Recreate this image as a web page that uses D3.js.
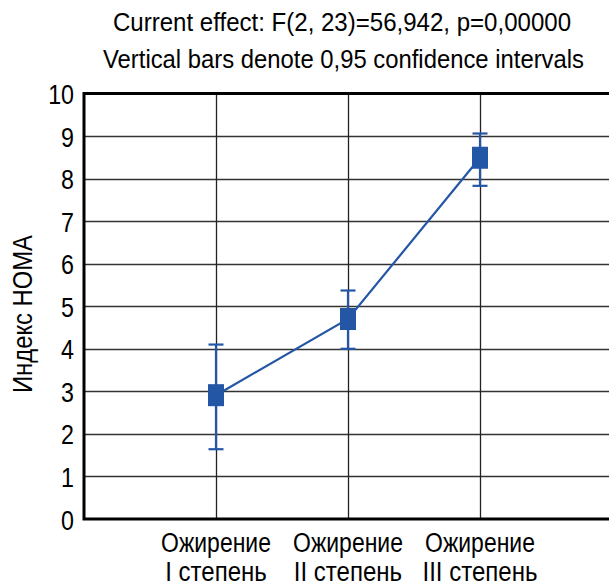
<!DOCTYPE html>
<html><head><meta charset="utf-8">
<script src="https://cdn.jsdelivr.net/npm/d3@7"></script>
<style>body{margin:0;background:#fff}svg{display:block}text{font-family:"Liberation Sans Narrow","Arial Narrow","Liberation Sans",Arial,sans-serif;fill:#000}</style>
</head><body>
<script>
const categories = [["Ожирение","I степень"],["Ожирение","II степень"],["Ожирение","III степень"]];
const means = [2.91, 4.70, 8.49];
const lower = [1.64, 4.00, 7.83];
const upper = [4.10, 5.37, 9.06];
const yTicks = [0,1,2,3,4,5,6,7,8,9,10];
const titleLines = ["Current effect: F(2, 23)=56,942, p=0,00000","Vertical bars denote 0,95 confidence intervals"];
const yLabel = "Индекс HOMA";

const W=609,H=582;
const svg=d3.select("body").append("svg").attr("width",W).attr("height",H);
const x=d3.scaleLinear().domain([0,4]).range([84,612]);
const y=d3.scaleLinear().domain([0,10]).range([519,93.5]);
const blue="#2456a6";

function fit(sel,w){sel.each(function(){this.setAttribute("textLength",w);this.setAttribute("lengthAdjust","spacingAndGlyphs");});}
function condense(sel,f){sel.each(function(){const w=this.getComputedTextLength();this.setAttribute("textLength",w*f);this.setAttribute("lengthAdjust","spacingAndGlyphs");});}

// grid
svg.append("g").selectAll("line").data(yTicks.slice(1,-1)).join("line")
 .attr("x1",84).attr("x2",W).attr("y1",d=>Math.round(y(d))+0.5).attr("y2",d=>Math.round(y(d))+0.5)
 .attr("stroke","#333").attr("stroke-width",1.3);
svg.append("g").selectAll("line").data(means.map((d,i)=>i+1)).join("line")
 .attr("x1",d=>Math.round(x(d))+0.5).attr("x2",d=>Math.round(x(d))+0.5).attr("y1",y(10)).attr("y2",y(0))
 .attr("stroke","#222").attr("stroke-width",1.3);

// frame
svg.append("path").attr("d",`M${W},${y(10)}H84V${y(0)}H${W}`).attr("fill","none").attr("stroke","#000").attr("stroke-width",3);

// y axis labels
const yAxis=svg.append("g").attr("transform","translate(84,0)")
 .call(d3.axisLeft(y).tickValues(yTicks).tickSize(0).tickPadding(10).tickFormat(d3.format("d")));
yAxis.select(".domain").remove();
yAxis.selectAll("text").attr("font-size",28).attr("font-family",null).attr("dy","0.36em").call(condense,0.83);

// line
svg.append("path").datum(means).attr("d",d3.line().x((d,i)=>x(i+1)).y(d=>y(d)))
 .attr("fill","none").attr("stroke",blue).attr("stroke-width",2.2);
// error bars
const eb=svg.append("g").attr("stroke",blue).attr("stroke-width",2.2);
means.forEach((m,i)=>{
  const cx=x(i+1);
  eb.append("line").attr("x1",cx).attr("x2",cx).attr("y1",y(lower[i])).attr("y2",y(upper[i]));
  eb.append("line").attr("x1",cx-7.5).attr("x2",cx+7.5).attr("y1",y(lower[i])).attr("y2",y(lower[i]));
  eb.append("line").attr("x1",cx-7.5).attr("x2",cx+7.5).attr("y1",y(upper[i])).attr("y2",y(upper[i]));
});
svg.append("g").selectAll("rect").data(means).join("rect")
 .attr("x",(d,i)=>x(i+1)-8).attr("y",d=>y(d)-11).attr("width",16).attr("height",22).attr("fill",blue);

// x labels
const xl=svg.append("g");
categories.forEach((c,i)=>{
  xl.append("text").attr("x",x(i+1)).attr("y",552).attr("text-anchor","middle").attr("font-size",27).text(c[0]).call(condense,0.85);
  xl.append("text").attr("x",x(i+1)).attr("y",581).attr("text-anchor","middle").attr("font-size",27).text(c[1]).call(condense,0.89);
});

// titles
svg.append("text").attr("x",342).attr("y",31).attr("text-anchor","middle").attr("font-size",26).text(titleLines[0]).call(fit,458);
svg.append("text").attr("x",343.5).attr("y",68).attr("text-anchor","middle").attr("font-size",26).text(titleLines[1]).call(fit,481);

// y label
svg.append("text").attr("transform","translate(32,314) rotate(-90)").attr("text-anchor","middle").attr("font-size",27).text(yLabel).call(fit,158);
</script>
</body></html>
